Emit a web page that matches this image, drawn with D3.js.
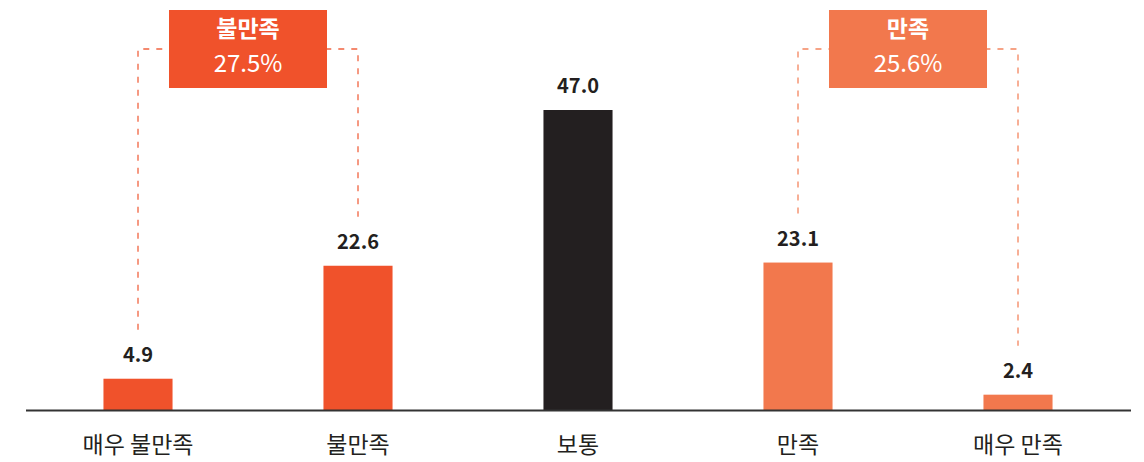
<!DOCTYPE html>
<html><head><meta charset="utf-8">
<script src="https://cdn.jsdelivr.net/npm/d3@7"></script>
<style>body{margin:0;background:#fff}svg{display:block;font-family:"Noto Sans CJK KR","Noto Sans",sans-serif}</style>
</head><body><div id="chart"></div>
<script>
const categories = ["매우 불만족", "불만족", "보통", "만족", "매우 만족"];
const values = [4.9, 22.6, 47.0, 23.1, 2.4];
const barColors = ["#F0522B", "#F0522B", "#231F20", "#F2784D", "#F2784D"];
const groupLabels = ["불만족", "만족"];
const groupValues = ["27.5%", "25.6%"];
const groupMembers = [[0, 1], [3, 4]];
const groupColors = ["#F0522B", "#F2784D"];

const W = 1144, H = 462;
const svg = d3.select("#chart").append("svg").attr("width", W).attr("height", H);
const x = d3.scaleBand().domain(categories).range([28, 1128]).paddingInner(0.686).paddingOuter(0.343);
const y = d3.scaleLinear().domain([0, 47]).range([410, 110]);

svg.selectAll("rect.bar").data(values).join("rect").attr("class", "bar")
  .attr("x", (d, i) => x(categories[i])).attr("width", x.bandwidth())
  .attr("y", d => y(d)).attr("height", d => y(0) - y(d))
  .attr("fill", (d, i) => barColors[i]);

svg.append("line").attr("x1", 26).attr("x2", 1131).attr("y1", 410.5).attr("y2", 410.5)
  .attr("stroke", "#333").attr("stroke-width", 2);

svg.selectAll("text.val").data(values).join("text").attr("class", "val")
  .attr("x", (d, i) => x(categories[i]) + x.bandwidth() / 2)
  .attr("y", d => y(d) - 17)
  .attr("text-anchor", "middle").attr("font-size", 20).attr("font-weight", 700).attr("fill", "#231F20")
  .text(d => d.toFixed(1));

svg.selectAll("text.cat").data(categories).join("text").attr("class", "cat")
  .attr("x", d => x(d) + x.bandwidth() / 2).attr("y", 453)
  .attr("text-anchor", "middle").attr("font-size", 23).attr("fill", "#231F20")
  .text(d => d);

const topY = 49;
groupMembers.forEach((m, g) => {
  const cx = m.map(i => x(categories[i]) + x.bandwidth() / 2);
  const ends = m.map(i => y(values[i]) - 49);
  const path = `M${cx[0]},${ends[0]} V${topY} H${cx[1]} V${ends[1]}`;
  svg.append("path").attr("d", path).attr("fill", "none")
    .attr("stroke", groupColors[g]).attr("stroke-width", 1.3).attr("stroke-dasharray", "6,7").attr("opacity", 0.9);
  const mid = (cx[0] + cx[1]) / 2;
  svg.append("rect").attr("x", mid - 79).attr("y", 10).attr("width", 158).attr("height", 78).attr("fill", groupColors[g]);
  svg.append("text").attr("x", mid).attr("y", 37).attr("text-anchor", "middle")
    .attr("font-size", 23).attr("font-weight", 700).attr("fill", "#fff").text(groupLabels[g]);
  svg.append("text").attr("x", mid).attr("y", 72).attr("text-anchor", "middle")
    .attr("font-size", 24).attr("fill", "#fff").text(groupValues[g]);
});
</script></body></html>
